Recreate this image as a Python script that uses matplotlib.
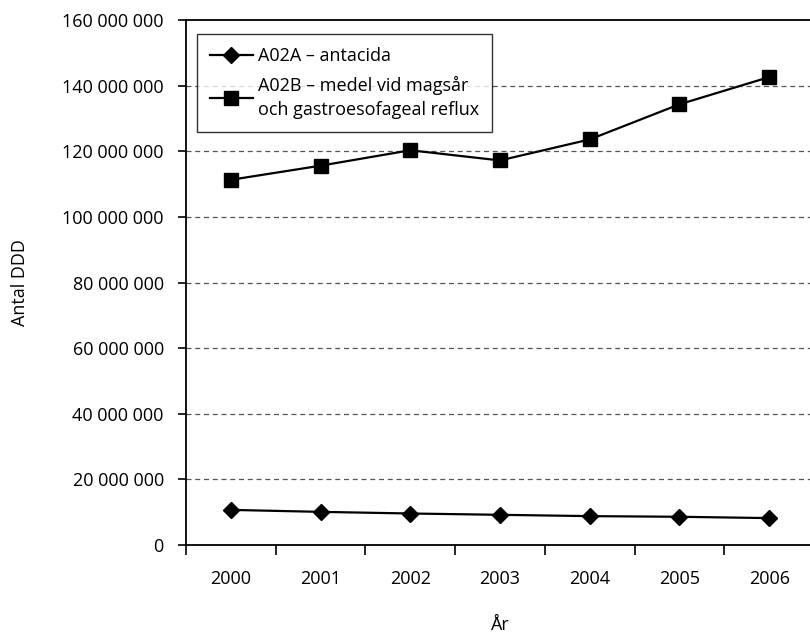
import numpy as np
import matplotlib.pyplot as plt
from matplotlib.ticker import FuncFormatter, FixedLocator

plt.rcParams['font.family'] = ['Open Sans', 'DejaVu Sans']

years = ['2000', '2001', '2002', '2003', '2004', '2005', '2006']
a02a = [10.7e6, 10.1e6, 9.6e6, 9.2e6, 8.8e6, 8.6e6, 8.2e6]
a02b = [111.3e6, 115.6e6, 120.3e6, 117.2e6, 123.6e6, 134.3e6, 142.6e6]

labels = ['A02A \u2013 antacida',
          'A02B \u2013 medel vid magsår\noch gastroesofageal reflux']

fig = plt.figure(figsize=(8.10, 6.33), dpi=100)
ax = fig.add_axes([186 / 810, 1 - 545 / 633, 628 / 810, 525 / 633])

x = np.arange(len(years))
ax.plot(x, a02a, color='black', lw=1.6, marker='D', ms=8, label=labels[0])
ax.plot(x, a02b, color='black', lw=1.6, marker='s', ms=10.5, label=labels[1])

ax.set_xlim(-0.5, len(years) - 0.5)
ax.set_ylim(0, 160e6)
ax.set_yticks(np.arange(0, 160e6 + 1, 20e6))
ax.yaxis.set_major_formatter(FuncFormatter(lambda v, p: f'{int(v):,}'.replace(',', ' ')))

# category labels sit between the tick marks
ax.set_xticks(x)
ax.set_xticklabels(years)
ax.xaxis.set_minor_locator(FixedLocator(np.arange(-0.5, len(years), 1.0)))
ax.tick_params(axis='x', which='major', length=0, pad=18, labelsize=13)
ax.tick_params(axis='x', which='minor', length=7, width=1.2, direction='out')
ax.tick_params(axis='y', length=6, width=1.2, direction='out', pad=10, labelsize=13)

for yv in np.arange(20e6, 160e6, 20e6):
    ax.axhline(yv, color='#555555', lw=0.9, ls=(0, (4, 3)), zorder=0)

for s in ax.spines.values():
    s.set_linewidth(1.3)

ax.set_ylabel('Antal DDD', fontsize=13, labelpad=24)
ax.set_xlabel('År', fontsize=13, labelpad=20)

leg = ax.legend(loc='upper left', bbox_to_anchor=(0.003, 0.99), fontsize=13,
                frameon=True, fancybox=False, edgecolor='black',
                handlelength=2.4, handletextpad=0.3, borderpad=0.7,
                labelspacing=0.6)
leg.get_frame().set_linewidth(1.0)
for t in leg.get_texts():
    t.set_linespacing(1.45)

fig.savefig('out.png', dpi=100)
